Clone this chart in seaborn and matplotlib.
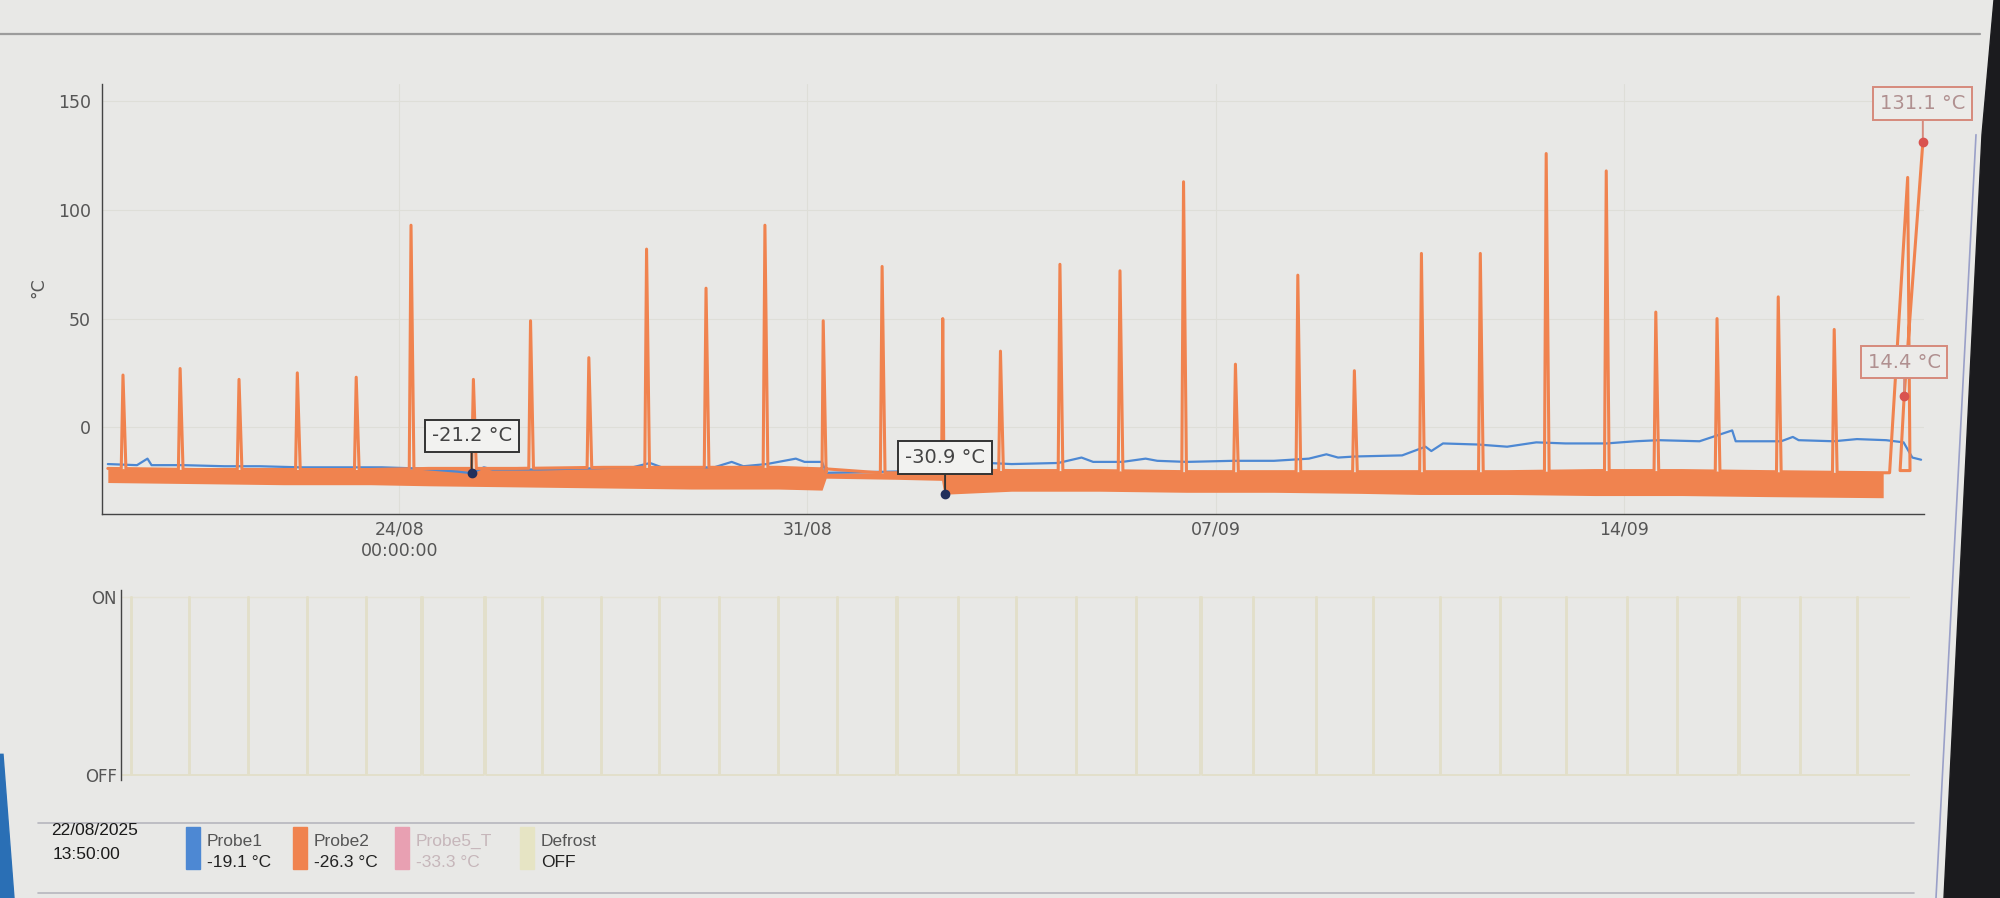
import numpy as np
import pandas as pd
import matplotlib
matplotlib.use("Agg")
import matplotlib.pyplot as plt
from matplotlib.patches import Polygon, Rectangle
from matplotlib.lines import Line2D
import seaborn as sns

sns.set_theme(style="white")
plt.rcParams["font.family"] = ["DejaVu Sans"]

# %% data (days after 19/08/2025 00:00)
START = pd.Timestamp("2025-08-19 00:00")

# defrost events: time and Probe2 peak
spike_day = [0.26, 1.24, 2.25, 3.25, 4.26, 5.20, 6.27, 7.25, 8.25, 9.24,
             10.26, 11.27, 12.27, 13.28, 14.32, 15.31, 16.33, 17.36, 18.45, 19.34,
             20.41, 21.38, 22.53, 23.54, 24.67, 25.70, 26.55, 27.60, 28.65, 29.61]
spike_peak = [24, 27, 22, 25, 23, 93, 22, 49, 32, 82,
              64, 93, 49, 74, 50, 35, 75, 72, 113, 29,
              70, 26, 80, 80, 126, 118, 53, 50, 60, 45]

# Probe2 noisy band (upper / lower edge)
band_day = [0.0, 1.5, 3.0, 4.5, 5.5, 7.0, 8.5, 10.0, 11.5, 12.25, 12.32, 13.5, 14.30,
            14.34, 15.5, 17.0, 18.5, 20.0, 21.5, 22.5, 24.0, 25.5, 27.0, 28.5, 30.45]
band_high = [-19.0, -19.5, -19.5, -19.5, -19.0, -19.0, -18.5, -18.5, -18.5, -18.5, -21.0, -21.0, -21.0,
             -19.5, -20.0, -20.0, -20.5, -20.5, -20.5, -20.5, -20.5, -20.0, -20.0, -20.5, -21.0]
band_low = [-25.5, -26.0, -26.5, -26.5, -27.0, -27.5, -28.0, -28.5, -28.5, -29.0, -23.5, -24.0, -24.5,
            -30.9, -29.5, -29.5, -30.0, -30.0, -30.5, -31.0, -31.0, -31.5, -31.5, -32.0, -32.5]

# last two defrost peaks at the right edge
tail_day = [30.56, 30.87, 30.91, 30.74, 30.81, 31.13]
tail_val = [-21.0, 115.0, -20.0, -20.0, 14.4, 131.1]

# Probe1
p1_day = [0.0, 0.5, 0.68, 0.75, 1.3, 2.0, 2.6, 3.3, 4.0, 4.7, 5.3, 6.0, 6.24, 6.45, 6.6,
          7.4, 8.2, 9.0, 9.3, 9.5, 10.4, 10.7, 10.9, 11.3, 11.8, 11.95, 12.25, 12.32,
          13.4, 14.3, 14.5, 14.9, 15.1, 15.5, 16.3, 16.7, 16.9, 17.4, 17.8, 18.0, 18.5,
          19.3, 20.0, 20.6, 20.9, 21.1, 21.4, 22.2, 22.6, 22.7, 22.9, 23.5, 24.0, 24.5,
          25.0, 25.7, 26.2, 26.6, 27.3, 27.86, 27.92, 28.7, 28.9, 29.0, 29.6, 30.0, 30.5,
          30.8, 30.95, 31.1]
p1_val = [-17.0, -17.5, -14.5, -17.5, -17.5, -18.0, -18.0, -18.5, -18.5, -18.5, -19.0, -20.5, -21.2, -18.5, -19.5,
          -19.5, -19.0, -18.5, -16.5, -18.5, -18.5, -16.0, -18.0, -17.0, -14.5, -16.0, -16.0, -21.0,
          -20.5, -20.0, -17.0, -14.5, -16.5, -17.0, -16.5, -14.0, -16.0, -16.0, -14.5, -15.5, -16.0,
          -15.5, -15.5, -14.5, -12.5, -14.0, -13.5, -13.0, -9.0, -11.0, -7.5, -8.0, -9.0, -7.0,
          -7.5, -7.5, -6.5, -6.0, -6.5, -1.5, -6.5, -6.5, -4.5, -6.0, -6.5, -5.5, -6.0,
          -7.0, -14.0, -15.0]

tick_day = [5, 12, 19, 26]
tick_label = ["24/08\n00:00:00", "31/08", "07/09", "14/09"]

BG = "#e8e8e6"
BLUE = "#4d88d3"
ORANGE = "#f0834f"
DEFROST = "#e2dfc9"


def t(days):
    return START + pd.to_timedelta(np.asarray(days, dtype=float), unit="D")


# %% build the line tables
foot = np.interp(spike_day, band_day, band_high)
p2_day = list(band_day)
p2_val = list(band_high)
for d, pk, f in zip(spike_day, spike_peak, foot):
    p2_day += [d - 0.03, d, d + 0.05]
    p2_val += [f, pk, f]
order = np.argsort(p2_day, kind="stable")
p2 = pd.DataFrame({"day": np.array(p2_day)[order], "temp": np.array(p2_val)[order]})
p2 = pd.concat([p2, pd.DataFrame({"day": tail_day, "temp": tail_val})], ignore_index=True)
p2["time"] = t(p2["day"])

p1 = pd.DataFrame({"time": t(p1_day), "temp": p1_val})

df_day, df_val = [-1.0], [0]
for d in spike_day:
    df_day += [d, d, d + 0.02, d + 0.02]
    df_val += [0, 1, 1, 0]
df_day.append(32.0)
df_val.append(0)
defrost = pd.DataFrame({"time": t(df_day), "state": df_val})

# %% figure
fig = plt.figure(figsize=(20, 8.98), dpi=100, facecolor=BG)

ax = fig.add_axes([0.051, 0.4276, 0.911, 0.4788], facecolor=BG)
for y in [0, 50, 100, 150]:
    ax.axhline(y, color="#deded8", lw=0.8, zorder=0)
for d in tick_day:
    ax.axvline(t(d), color="#deded8", lw=0.8, zorder=0)

ax.fill_between(t(band_day), band_low, band_high, color=ORANGE, lw=0, zorder=2)
sns.lineplot(data=p1, x="time", y="temp", color=BLUE, lw=1.6, estimator=None,
             sort=False, ax=ax, zorder=3)
sns.lineplot(data=p2, x="time", y="temp", color=ORANGE, lw=2.2, estimator=None,
             sort=False, ax=ax, zorder=4)

ax.set_xlim(t(-0.1), t(31.15))
ax.set_ylim(-40, 158)
ax.set_yticks([0, 50, 100, 150])
ax.set_xticks(t(tick_day))
ax.set_xticklabels(tick_label)
ax.tick_params(axis="both", length=0, labelsize=12.5, labelcolor="#555555")
ax.tick_params(axis="y", pad=8)
ax.tick_params(axis="x", pad=5)
ax.set_xlabel("")
ax.set_ylabel("")
for s in ["top", "right"]:
    ax.spines[s].set_visible(False)
for s in ["left", "bottom"]:
    ax.spines[s].set_color("#444444")
    ax.spines[s].set_linewidth(1.0)
fig.text(0.019, 0.68, "°C", rotation=90, ha="center", va="center",
         fontsize=12.5, color="#555555")


def tag(day, val, text_day, text_val, label, ec, tc, fc, dot):
    ax.annotate(label, xy=(t(day), val), xytext=(t(text_day), text_val),
                textcoords="data", ha="center", va="center", fontsize=14, color=tc,
                bbox=dict(boxstyle="square,pad=0.35", fc=fc, ec=ec, lw=1.4),
                arrowprops=dict(arrowstyle="-", color=ec, lw=1.4, shrinkA=0, shrinkB=0),
                annotation_clip=False, zorder=6)
    ax.plot(t(day), val, "o", ms=6, color=dot, zorder=7, clip_on=False)


tag(6.24, -21.2, 6.24, -4, "-21.2 °C", "#333333", "#444444", "#f2f2f0", "#22305c")
tag(14.36, -30.9, 14.36, -14, "-30.9 °C", "#333333", "#444444", "#f2f2f0", "#22305c")
tag(31.13, 131.1, 31.13, 149, "131.1 °C", "#d68a7c", "#b09090", "#ecebe9", "#d9534f")
tag(30.81, 14.4, 30.81, 30, "14.4 °C", "#d68a7c", "#b09090", "#ecebe9", "#d9534f")

# %% defrost panel
ax2 = fig.add_axes([0.0605, 0.131, 0.8945, 0.212], facecolor=BG)
ax2.axhline(1, color="#e4e2d6", lw=1.0, zorder=0)
sns.lineplot(data=defrost, x="time", y="state", color=DEFROST, lw=1.3, estimator=None,
             sort=False, ax=ax2)
ax2.set_xlim(t(0.09), t(30.52))
ax2.set_ylim(-0.03, 1.04)
ax2.set_yticks([0, 1])
ax2.set_yticklabels(["OFF", "ON"])
ax2.set_xticks([])
ax2.set_xlabel("")
ax2.set_ylabel("")
ax2.tick_params(axis="y", length=0, labelsize=12, labelcolor="#555555", pad=3)
for s in ["top", "right", "bottom"]:
    ax2.spines[s].set_visible(False)
ax2.spines["left"].set_color("#444444")
ax2.spines["left"].set_linewidth(1.0)

# %% page chrome: separators, legend strip, screen edges
fig.add_artist(Line2D([0.0, 0.99], [0.962, 0.962], color="#9c9c9c", lw=1.6))
fig.add_artist(Line2D([0.019, 0.957], [0.0835, 0.0835], color="#b6b6be", lw=1.2))
fig.add_artist(Line2D([0.019, 0.957], [0.006, 0.006], color="#b6b6be", lw=1.2))

fig.text(0.0255, 0.070, "22/08/2025", fontsize=12.5, color="#1a1a1a",
         family="Liberation Sans")
fig.text(0.0265, 0.043, "13:50:00", fontsize=12.5, color="#1a1a1a",
         family="Liberation Sans")

legend_x = [0.093, 0.1465, 0.1975, 0.260]
legend_col = [BLUE, ORANGE, "#e8a0b2", "#e6e4c4"]
legend_name = ["Probe1", "Probe2", "Probe5_T", "Defrost"]
legend_val = ["-19.1 °C", "-26.3 °C", "-33.3 °C", "OFF"]
legend_txt = ["#555555", "#555555", "#c6b6ba", "#555555"]
legend_valc = ["#222222", "#222222", "#c6b6ba", "#222222"]
for x, c, n, v, tc, vc in zip(legend_x, legend_col, legend_name, legend_val, legend_txt, legend_valc):
    fig.add_artist(Rectangle((x, 0.032), 0.007, 0.047, color=c, transform=fig.transFigure))
    fig.text(x + 0.0105, 0.058, n, fontsize=12.5, color=tc, family="Liberation Sans")
    fig.text(x + 0.0105, 0.034, v, fontsize=12.5, color=vc, family="Liberation Sans")

fig.add_artist(Polygon([(0.972, 0.0), (1.0, 0.0), (1.0, 1.0), (0.997, 1.0), (0.991, 0.85)],
                       closed=True, color="#1b1b1e", transform=fig.transFigure))
fig.add_artist(Line2D([0.968, 0.988], [0.0, 0.85], color="#9aa0c8", lw=1.2))
fig.add_artist(Polygon([(0.0, 0.0), (0.007, 0.0), (0.0015, 0.16), (0.0, 0.16)],
                       closed=True, color="#2a6fb5", transform=fig.transFigure))

fig.savefig("out.png", dpi=100, facecolor=BG)
